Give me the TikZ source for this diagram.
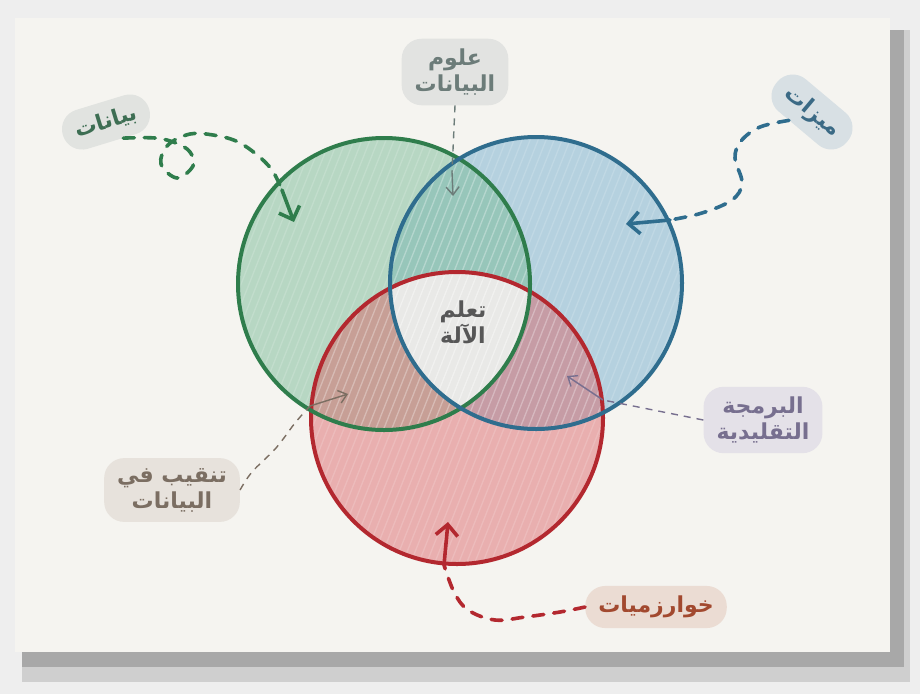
\documentclass[tikz,border=0pt]{standalone}
\usepackage{fontspec}
\newfontfamily\arabicfont[Script=Arabic]{DejaVu Sans}
\TeXXeTstate=1
\usetikzlibrary{arrows.meta}

\definecolor{outer}{HTML}{EEEEEE}
\definecolor{shadedark}{HTML}{A8A8A8}
\definecolor{shadelight}{HTML}{CFCFCF}
\definecolor{paper}{HTML}{F5F4F0}
\definecolor{greenline}{HTML}{2F7D4C}
\definecolor{blueline}{HTML}{2F6D8E}
\definecolor{redline}{HTML}{B3282F}
\definecolor{greenfill}{HTML}{7BBC97}
\definecolor{bluefill}{HTML}{76AFD0}
\definecolor{redfill}{HTML}{DC5C60}
\definecolor{centre}{HTML}{E9E9E7}
\definecolor{greentext}{HTML}{3D6E53}
\definecolor{graytext}{HTML}{6C7C79}
\definecolor{bluetext}{HTML}{3B6A85}
\definecolor{darktext}{HTML}{575757}
\definecolor{purpletext}{HTML}{776F8F}
\definecolor{browntext}{HTML}{7B6E62}
\definecolor{redtext}{HTML}{A2492F}
\definecolor{greencloud}{HTML}{E1E3E0}
\definecolor{graycloud}{HTML}{E2E3E1}
\definecolor{bluecloud}{HTML}{D8E0E4}
\definecolor{purplecloud}{HTML}{E4E1E8}
\definecolor{browncloud}{HTML}{E7E2DC}
\definecolor{redcloud}{HTML}{EBDCD3}

\begin{document}
\begin{tikzpicture}[x=1pt,y=-1pt,
	ring/.style={line width=4pt},
	lbl/.style={font=\arabicfont\bfseries\fontsize{22}{26}\selectfont, align=center, inner xsep=13pt, inner ysep=10pt, rounded corners=20pt},
	bigdash/.style={line width=3.6pt, line cap=round, dash pattern=on 11pt off 10pt},
	smalldash/.style={line width=1.4pt, dash pattern=on 7pt off 6pt},
	bigtip/.style={line width=3.6pt, line cap=round, -{Straight Barb[length=11pt,width=22pt]}},
	smalltip/.style={line width=1.4pt, -{Straight Barb[length=8pt,width=13pt]}}]
	
	\useasboundingbox (0,0) rectangle (920,694);
	
	% card and its shadow
	\fill[outer] (0,0) rectangle (920,694);
	\fill[shadelight] (22,30) rectangle (910,682);
	\fill[shadedark] (22,30) rectangle (904,667);
	\fill[paper] (15,18) rectangle (890,652);
	
	\coordinate (gc) at (384,284);
	\coordinate (bc) at (536,283);
	\coordinate (rc) at (457,418);
	
	\fill[bluefill, fill opacity=0.5] (bc) circle[radius=146];
	\fill[greenfill, fill opacity=0.5] (gc) circle[radius=146];
	\fill[redfill, fill opacity=0.45] (rc) circle[radius=146];
	\begin{scope}
		\clip (gc) circle[radius=146];
		\clip (bc) circle[radius=146];
		\fill[centre] (rc) circle[radius=146];
	\end{scope}
	
	% pencil strokes
	\foreach \c in {gc,bc,rc}{
		\begin{scope}
			\clip (\c) circle[radius=146];
			\foreach \x in {150,158,...,820}
				\draw[white, opacity=0.16, line width=1.3pt] (\x-130,600) -- (\x+60,120);
		\end{scope}
	}
	
	\draw[ring, redline] (rc) circle[radius=146];
	\draw[ring, greenline] (gc) circle[radius=146];
	\draw[ring, blueline] (bc) circle[radius=146];
	
	% labels
	\node[lbl, fill=greencloud, text=greentext, rotate=17] (bayanat) at (106,122) {\beginR بيانات\endR};
	\node[lbl, fill=graycloud, text=graytext] (ulum) at (455,72) {\beginR علوم\endR\\\beginR البيانات\endR};
	\node[lbl, fill=bluecloud, text=bluetext, rotate=-40] (mizat) at (812,112) {\beginR ميزات\endR};
	\node[lbl, text=darktext] (taalum) at (463,322) {\beginR تعلم\endR\\\beginR الآلة\endR};
	\node[lbl, fill=purplecloud, text=purpletext] (barmaja) at (763,420) {\beginR البرمجة\endR\\\beginR التقليدية\endR};
	\node[lbl, fill=browncloud, text=browntext] (tanqib) at (172,490) {\beginR تنقيب في\endR\\\beginR البيانات\endR};
	\node[lbl, fill=redcloud, text=redtext] (khawarizmiyat) at (656,607) {\beginR خوارزميات\endR};
	
	% arrow ends
	\coordinate (gbend) at (282,190);
	\coordinate (gtip) at (294,222);
	\coordinate (bbend) at (670,220);
	\coordinate (btip) at (626,224);
	\coordinate (ubend) at (452,172);
	\coordinate (utip) at (453,196);
	\coordinate (pbend) at (603,400);
	\coordinate (ptip) at (567,376);
	\coordinate (tbend) at (310,406);
	\coordinate (ttip) at (348,394);
	\coordinate (kbend) at (444,565);
	\coordinate (ktip) at (448,522);
	
	\draw[bigdash, greenline] plot[smooth, tension=0.6] coordinates {(bayanat.-60) (155,138) (176,143) (190,152) (193,166) (177,178) (161,164) (168,145) (190,134) (213,135) (236,141) (256,154) (272,170) (gbend)};
	\draw[bigtip, greenline] (gbend) -- (gtip);
	
	\draw[bigdash, blueline] plot[smooth, tension=0.6] coordinates {(mizat.-120) (760,127) (741,141) (735,158) (742,183) (732,200) (702,213) (bbend)};
	\draw[bigtip, blueline] (bbend) -- (btip);
	
	\draw[smalldash, graytext] (ulum.south) -- (ubend);
	\draw[smalltip, graytext] (ubend) -- (utip);
	
	\draw[smalldash, purpletext] (barmaja.west) -- (pbend);
	\draw[smalltip, purpletext] (pbend) -- (ptip);
	
	\draw[smalldash, browntext] plot[smooth, tension=0.6] coordinates {(tanqib.east) (252,472) (276,448) (295,423) (tbend)};
	\draw[smalltip, browntext] (tbend) -- (ttip);
	
	\draw[bigdash, redline] plot[smooth, tension=0.6] coordinates {(khawarizmiyat.west) (560,612) (525,617) (495,620) (468,610) (454,592) (kbend)};
	\draw[bigtip, redline] (kbend) -- (ktip);
\end{tikzpicture}
\end{document}
